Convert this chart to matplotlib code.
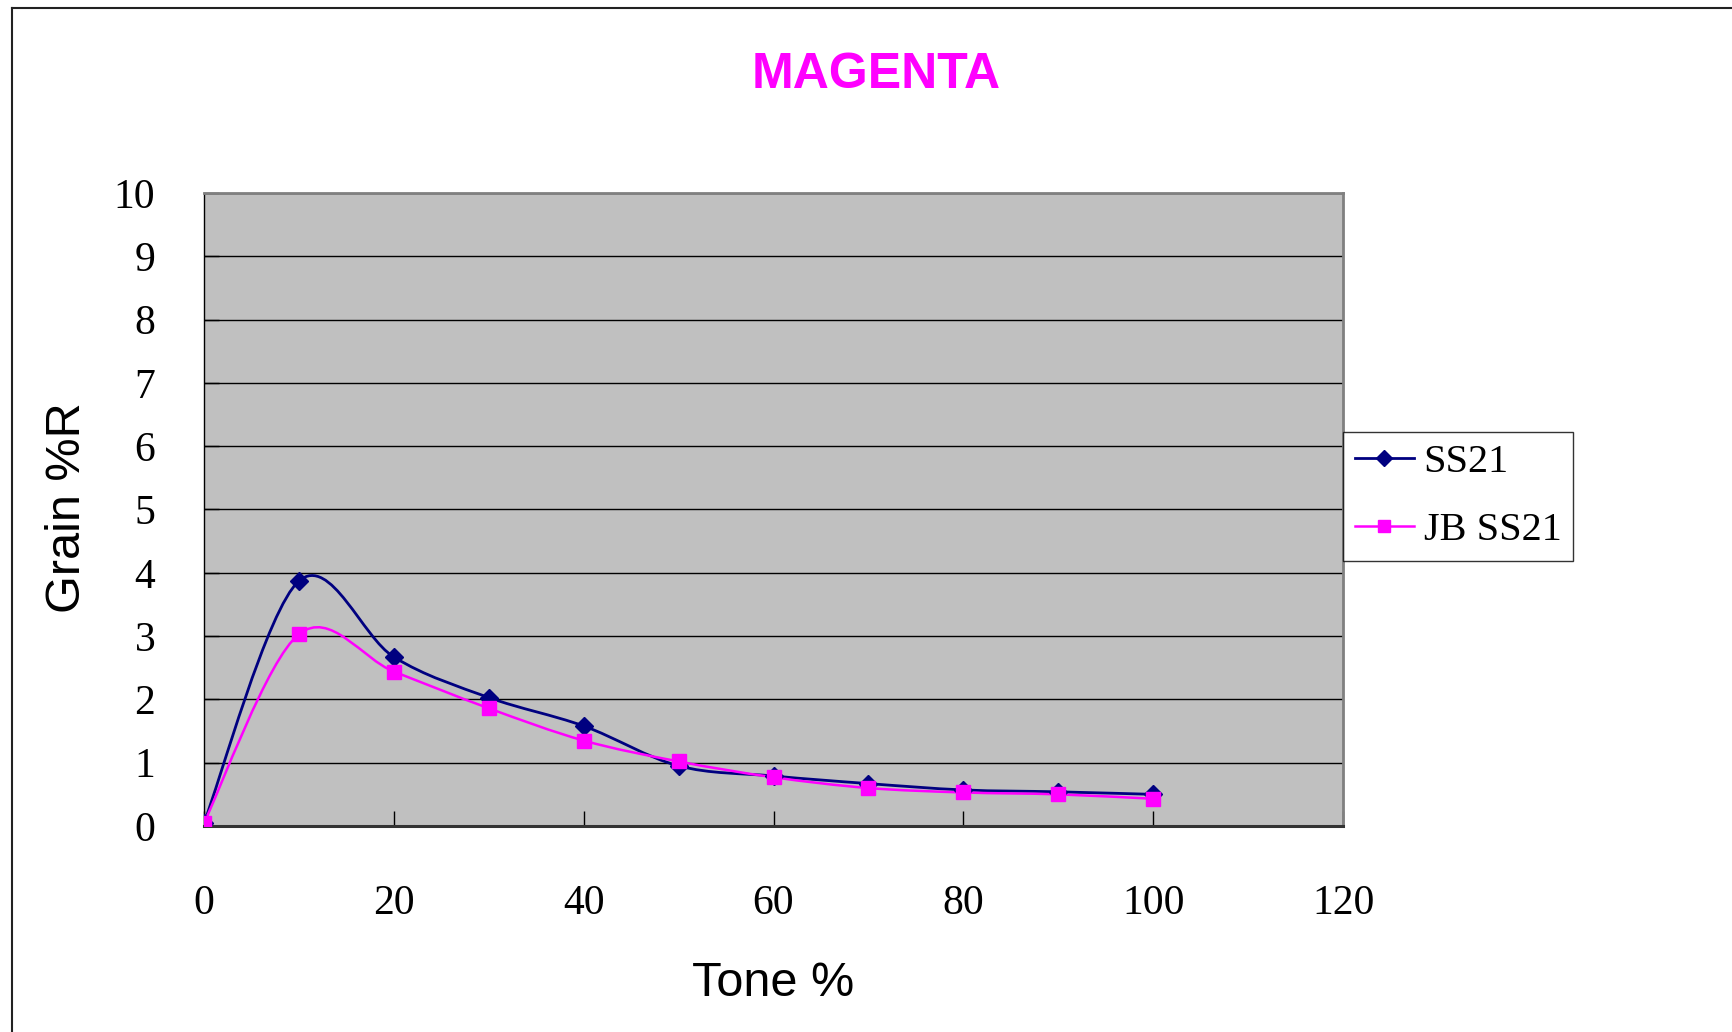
import matplotlib
matplotlib.use("Agg")
import matplotlib.pyplot as plt
from matplotlib.path import Path
from matplotlib.patches import PathPatch
from matplotlib.lines import Line2D

# data
tone = [0, 10, 20, 30, 40, 50, 60, 70, 80, 90, 100]
ss21 = [0.05, 3.87, 2.67, 2.03, 1.58, 0.95, 0.79, 0.67, 0.57, 0.54, 0.50]
jb_ss21 = [0.05, 3.03, 2.44, 1.86, 1.35, 1.02, 0.77, 0.60, 0.53, 0.50, 0.43]
x_ticks = [0, 20, 40, 60, 80, 100, 120]
y_ticks = list(range(0, 11))

NAVY = "#000080"
MAGENTA = "#FF00FF"


def smooth_path(xs, ys):
    """Excel-style smoothed line: cubic Bezier through every point."""
    pts = list(zip(xs, ys))
    verts = [pts[0]]
    codes = [Path.MOVETO]
    n = len(pts)
    for i in range(n - 1):
        p0 = pts[max(i - 1, 0)]
        p1 = pts[i]
        p2 = pts[i + 1]
        p3 = pts[min(i + 2, n - 1)]
        c1 = (p1[0] + (p2[0] - p0[0]) / 6, p1[1] + (p2[1] - p0[1]) / 6)
        c2 = (p2[0] - (p3[0] - p1[0]) / 6, p2[1] - (p3[1] - p1[1]) / 6)
        verts += [c1, c2, p2]
        codes += [Path.CURVE4] * 3
    return Path(verts, codes)


fig = plt.figure(figsize=(17.33, 10.32), dpi=100)
ax = fig.add_axes([0.1177, 0.1996, 0.6573, 0.6134])
ax.set_facecolor("#C0C0C0")

ax.add_patch(PathPatch(smooth_path(tone, ss21), fill=False,
                       edgecolor=NAVY, lw=2.0, zorder=3))
ax.add_patch(PathPatch(smooth_path(tone, jb_ss21), fill=False,
                       edgecolor=MAGENTA, lw=1.8, zorder=3))
ax.plot(tone, ss21, linestyle="none", marker="D", ms=9.5,
        color=NAVY, zorder=4)
ax.plot(tone, jb_ss21, linestyle="none", marker="s", ms=10.5,
        color=MAGENTA, zorder=5)

ax.set_xlim(0, 120)
ax.set_ylim(0, 10)
ax.set_xticks(x_ticks)
ax.set_yticks(y_ticks)
ax.yaxis.grid(True, color="black", lw=1)
ax.set_axisbelow(True)

serif = "Liberation Serif"
ax.tick_params(direction="in", length=11, width=1, color="black")
ax.tick_params(axis="y", pad=35)
ax.tick_params(axis="x", pad=42)
for lab in ax.get_xticklabels() + ax.get_yticklabels():
    lab.set_fontfamily(serif)
    lab.set_fontsize(30)

ax.spines["top"].set_color("#808080")
ax.spines["right"].set_color("#808080")
ax.spines["top"].set_linewidth(2)
ax.spines["right"].set_linewidth(2)
ax.spines["left"].set_color("black")
ax.spines["left"].set_linewidth(1)
ax.spines["bottom"].set_color("#333333")
ax.spines["bottom"].set_linewidth(2.2)

# legend handles
h1 = Line2D([], [], color=NAVY, lw=2.0, marker="D", ms=8)
h2 = Line2D([], [], color=MAGENTA, lw=1.8, marker="s", ms=8)
leg = fig.legend([h1, h2], ["SS21", "JB SS21"], loc="center left",
                 bbox_to_anchor=(0.775, 0.519), frameon=True, fancybox=False,
                 shadow=False, prop={"family": serif, "size": 29},
                 handlelength=1.45, handletextpad=0.25, borderpad=0.3,
                 labelspacing=0.75, borderaxespad=0)
leg.get_frame().set_edgecolor("black")
leg.get_frame().set_linewidth(1)

fig.text(0.5055, 0.927, "MAGENTA", color=MAGENTA, fontsize=36,
         fontweight="bold", family="Liberation Sans", ha="center", va="center")
fig.text(0.039, 0.508, "Grain %R", rotation=90, fontsize=35,
         family="Liberation Sans", ha="center", va="center")
fig.text(0.446, 0.047, "Tone %", fontsize=35,
         family="Liberation Sans", ha="center", va="center")

# outer chart frame
fig.add_artist(Line2D([0.0069, 0.0069], [0.0, 0.9922], color="#222222",
                      lw=1.5, transform=fig.transFigure))
fig.add_artist(Line2D([0.0069, 1.0], [0.9922, 0.9922], color="#222222",
                      lw=1.5, transform=fig.transFigure))

fig.savefig("out.png", dpi=100)
